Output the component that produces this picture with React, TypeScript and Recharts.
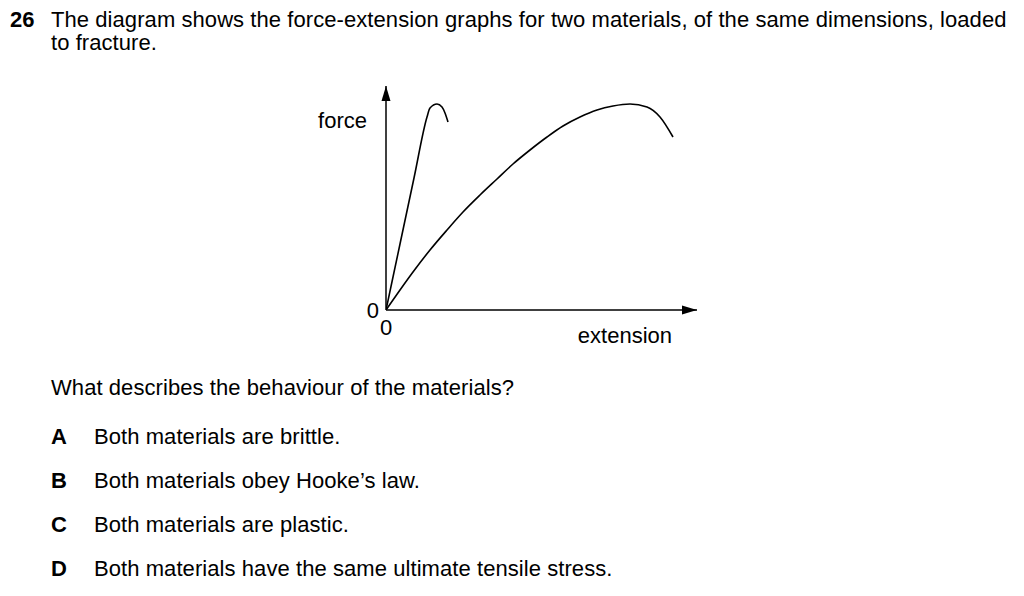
import React from 'react';
import { LineChart, Line, XAxis, YAxis, ReferenceDot } from 'recharts';

// brittle material: steep straight line, short rounded top, fracture
const brittleExt = [0, 14, 28, 41, 44, 51, 56, 59, 62];
const brittleForce = [0, 66, 132, 193, 202, 206, 203, 197, 188];

// ductile material: long curve, max then necking to fracture
const ductileExt = [0, 14, 27, 44, 61, 77, 94, 111, 127, 144, 161, 177, 194, 211, 227, 244, 261, 274, 287];
const ductileForce = [0, 20, 38, 60, 80, 98, 115, 131, 146, 160, 173, 184, 193, 200, 204, 206, 203, 193, 173];

const axisTicks = [0];
const xMax = 311;
const yMax = 224;

const options = [
  { letter: 'A', text: 'Both materials are brittle.' },
  { letter: 'B', text: 'Both materials obey Hooke\u2019s law.' },
  { letter: 'C', text: 'Both materials are plastic.' },
  { letter: 'D', text: 'Both materials have the same ultimate tensile stress.' },
];

const brittleData = brittleExt.map((x, i) => ({ x, y: brittleForce[i] }));
const ductileData = ductileExt.map((x, i) => ({ x, y: ductileForce[i] }));

const font = '"Liberation Sans", Arial, sans-serif';

const ArrowRight = ({ cx, cy }: any) => (
  <polygon points={`${cx},${cy} ${cx - 15},${cy - 4.5} ${cx - 15},${cy + 4.5}`} fill="#000" />
);
const ArrowUp = ({ cx, cy }: any) => (
  <polygon points={`${cx},${cy} ${cx - 4.5},${cy + 15} ${cx + 4.5},${cy + 15}`} fill="#000" />
);

// baseline-based placement for 22px text
const text = (baseline: number, left: number, s: string, bold = false) => (
  <div
    style={{
      position: 'absolute', top: baseline - 18.6, left, fontSize: 22, lineHeight: '22px',
      fontWeight: bold ? 'bold' : 'normal', whiteSpace: 'nowrap', color: '#000',
      letterSpacing: bold ? 0 : 0.07,
    }}
  >
    {s}
  </div>
);

export default function App() {
  return (
    <div style={{ position: 'absolute', left: 0, top: 0, width: 1024, height: 596, background: '#fff', fontFamily: font, overflow: 'hidden' }}>
      {text(28, 10, '26', true)}
      {text(28, 51, 'The diagram shows the force-extension graphs for two materials, of the same dimensions, loaded')}
      {text(51, 51, 'to fracture.')}

      <div style={{ position: 'absolute', left: 300, top: 70 }}>
        <LineChart width={420} height={290} margin={{ top: 16, right: 23, bottom: 10, left: 46 }}>
          <XAxis
            dataKey="x" type="number" domain={[0, xMax]} ticks={axisTicks} allowDataOverflow
            height={40} tickLine={false} tickSize={0} tickMargin={9}
            axisLine={{ stroke: '#000', strokeWidth: 1.5 }}
            tick={{ fill: '#000', fontSize: 22, fontFamily: font }}
            label={{
              content: ({ viewBox }: any) => (
                <text x={viewBox.x + viewBox.width - 25} y={viewBox.y + 33} textAnchor="end" fontSize={22} fontFamily={font} fill="#000">extension</text>
              ),
            }}
          />
          <YAxis
            dataKey="y" type="number" domain={[0, yMax]} ticks={axisTicks} allowDataOverflow
            width={40} tickLine={false} tickSize={0} tickMargin={7}
            axisLine={{ stroke: '#000', strokeWidth: 1.5 }}
            tick={{ fill: '#000', fontSize: 22, fontFamily: font }}
            label={{
              content: ({ viewBox }: any) => (
                <text x={viewBox.x + viewBox.width - 19} y={viewBox.y + 42} textAnchor="end" fontSize={22} fontFamily={font} fill="#000">force</text>
              ),
            }}
          />
          <Line data={brittleData} dataKey="y" type="monotone" stroke="#000" strokeWidth={1.6} dot={false} isAnimationActive={false} />
          <Line data={ductileData} dataKey="y" type="monotone" stroke="#000" strokeWidth={1.6} dot={false} isAnimationActive={false} />
          <ReferenceDot x={xMax} y={0} r={0} shape={ArrowRight} ifOverflow="visible" />
          <ReferenceDot x={0} y={yMax} r={0} shape={ArrowUp} ifOverflow="visible" />
        </LineChart>
      </div>

      {text(396, 51, 'What describes the behaviour of the materials?')}
      {options.map((o, i) => (
        <React.Fragment key={o.letter}>
          {text(445 + i * 43.7, 51, o.letter, true)}
          {text(445 + i * 43.7, 94, o.text)}
        </React.Fragment>
      ))}
    </div>
  );
}
